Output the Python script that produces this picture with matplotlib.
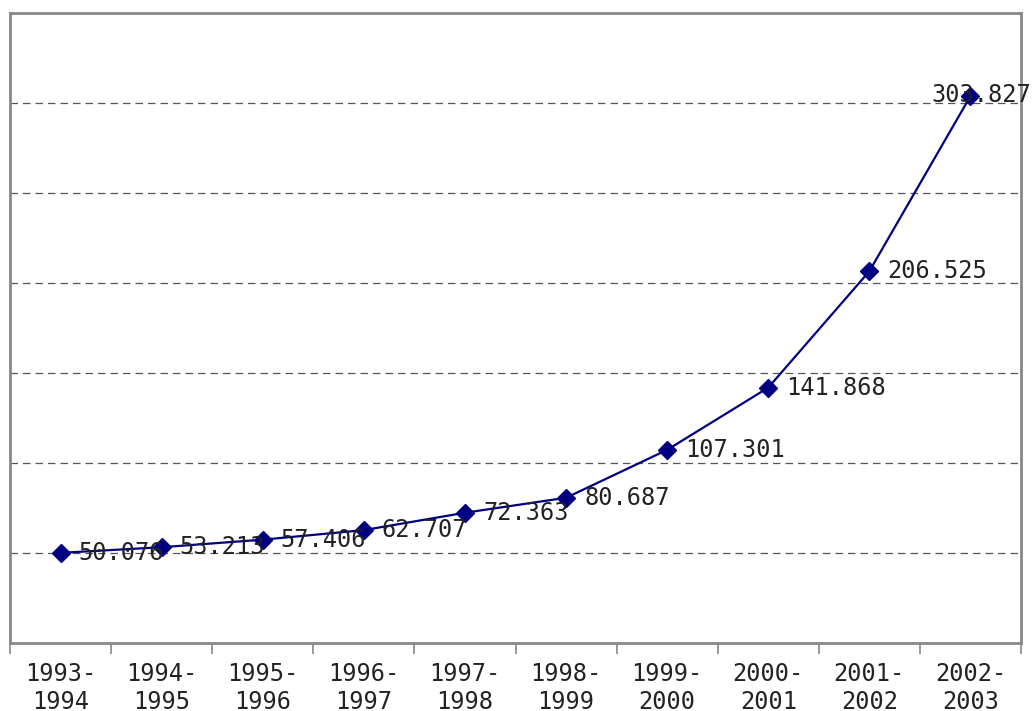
import matplotlib
matplotlib.use('Agg')
import matplotlib.pyplot as plt

# yearly values
periods = ['1993-\n1994', '1994-\n1995', '1995-\n1996', '1996-\n1997', '1997-\n1998',
           '1998-\n1999', '1999-\n2000', '2000-\n2001', '2001-\n2002', '2002-\n2003']
values = [50.076, 53.213, 57.406, 62.707, 72.363, 80.687, 107.301, 141.868, 206.525, 303.827]
labels = ['50.076', '53.213', '57.406', '62.707', '72.363', '80.687',
          '107.301', '141.868', '206.525', '303.827']
grid_vals = [50, 100, 150, 200, 250, 300]

plt.rcParams['font.family'] = 'DejaVu Sans Mono'

fig = plt.figure(figsize=(10.35, 7.11), dpi=100)
ax = fig.add_axes([10/1035, 68/711, 1011/1035, 630/711])

xs = list(range(len(values)))
ax.plot(xs, values, color='#000080', lw=1.6, marker='D', ms=9, mfc='#000080', mec='#000080', zorder=3)

for x, v, t in zip(xs, values, labels):
    if x == len(values) - 1:
        # last label sits over the marker, running past the frame
        ax.annotate(t, (x, v), xytext=(8, 1), textcoords='offset points',
                    ha='center', va='center', fontsize=17, color='#222222',
                    zorder=4, annotation_clip=False)
    else:
        ax.annotate(t, (x, v), xytext=(13, 0), textcoords='offset points',
                    ha='left', va='center', fontsize=17, color='#222222', zorder=4)

for g in grid_vals:
    ax.axhline(g, color='#555555', lw=0.9, ls=(0, (6, 4)), zorder=1)

ax.set_xlim(-0.5, len(values) - 0.5)
ax.set_ylim(0, 350)
ax.set_yticks([])

ax.set_xticks([i - 0.5 for i in range(len(values) + 1)])
ax.set_xticklabels([])
ax.set_xticks(xs, minor=True)
ax.set_xticklabels(periods, minor=True, fontsize=17, color='#222222', linespacing=1.2)
ax.tick_params(axis='x', which='major', length=8, width=1.2, color='#888888', direction='out')
ax.tick_params(axis='x', which='minor', length=0, pad=14)

for s in ax.spines.values():
    s.set_color('#888888')
    s.set_linewidth(2)

fig.savefig('out.png', dpi=100)
